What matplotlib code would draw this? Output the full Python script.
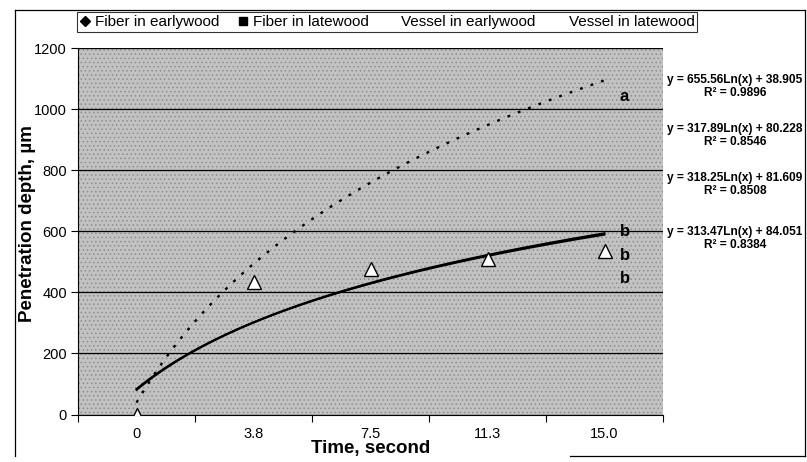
"""Penetration depth vs time, with logarithmic trend lines."""

import matplotlib

matplotlib.use("Agg")
import matplotlib.pyplot as plt
from matplotlib.lines import Line2D
from matplotlib.patches import Rectangle
import numpy as np

plt.rcParams["font.family"] = ["Liberation Sans", "DejaVu Sans"]
plt.rcParams["hatch.linewidth"] = 0.6

# category axis (Excel style: points sit at positions 1..5)
time_labels = ["0", "3.8", "7.5", "11.3", "15.0"]
series_names = ["Fiber in earlywood", "Fiber in latewood", "Vessel in earlywood", "Vessel in latewood"]

# the only markers still readable in the scan
marker_values = [0, 435, 477, 510, 536]

# logarithmic trend lines  y = slope * ln(x) + intercept
fit_slopes = [655.56, 317.89, 318.25, 313.47]
fit_intercepts = [38.905, 80.228, 81.609, 84.051]
fit_r2 = [0.9896, 0.8546, 0.8508, 0.8384]

# significance letters at the right end of the curves
group_letters = ["a", "b", "b", "b"]
letter_depths = [1040, 600, 520, 445]

W, H = 807, 462
fig = plt.figure(figsize=(W / 100, H / 100), dpi=100)
fig.patch.set_facecolor("white")
ax = fig.add_axes([78 / W, 1 - 414.5 / H, (663 - 78) / W, (414.5 - 48) / H])
ax.set_facecolor("#c2c2c2")
# dithered-looking fill of the scanned plot area
ax.add_patch(Rectangle((0, 0), 1, 1, transform=ax.transAxes, facecolor="none",
                       edgecolor="#8e8e8e", hatch="....", linewidth=0, zorder=0))

cats = np.arange(1, len(time_labels) + 1)
xs = np.linspace(cats[0], cats[-1], 200)
for i, (a, b) in enumerate(zip(fit_slopes, fit_intercepts)):
    style = (0, (1.2, 3.5)) if i == 0 else "-"
    lw = 1.7 if i == 0 else 1.3
    ax.plot(xs, a * np.log(xs) + b, color="black", linestyle=style, linewidth=lw, zorder=3)

ax.plot(cats, marker_values, linestyle="none", marker="^", markersize=10,
        markerfacecolor="white", markeredgecolor="black", markeredgewidth=1.0, zorder=4)

for letter, depth in zip(group_letters, letter_depths):
    ax.text(cats[-1] + 0.13, depth, letter, fontsize=12, fontweight="bold", va="center", ha="left", zorder=5)

ax.set_xlim(0.5, len(time_labels) + 0.5)
ax.set_ylim(0, 1200)
ax.set_yticks(np.arange(0, 1201, 200))
ax.yaxis.grid(True, color="black", linewidth=0.9)
ax.set_axisbelow(True)
ax.set_xticks(np.arange(0.5, len(time_labels) + 1, 1.0))
ax.set_xticklabels([])
ax.set_xticks(cats, minor=True)
ax.set_xticklabels(time_labels, minor=True)
ax.tick_params(axis="x", which="major", length=5, width=0.8, direction="out")
ax.tick_params(axis="x", which="minor", length=0, pad=9, labelsize=10.5)
ax.tick_params(axis="y", length=5, width=0.8, direction="out", labelsize=10.5, pad=3)
for side in ["top", "right"]:
    ax.spines[side].set_visible(False)
ax.spines["left"].set_linewidth(0.8)
ax.spines["bottom"].set_linewidth(0.8)

ax.set_xlabel("Time, second", fontsize=13.5, fontweight="bold", labelpad=-1)
ax.set_ylabel("Penetration depth, \u00b5m", fontsize=13.5, fontweight="bold")
ax.yaxis.set_label_coords(-0.071, 0.52)

handles = [
    Line2D([], [], linestyle="none", marker="D", markersize=5.5, color="black"),
    Line2D([], [], linestyle="none", marker="s", markersize=5.5, color="black"),
    Line2D([], [], linestyle="none", marker="^", markersize=5.5, color="white"),
    Line2D([], [], linestyle="none", marker="^", markersize=5.5, color="white"),
]
leg = fig.legend(handles, series_names, loc="upper left", bbox_to_anchor=(77 / W, 1 - 12 / H),
                 ncol=4, fontsize=11, frameon=True, fancybox=False, borderpad=0.2,
                 handlelength=0.7, handletextpad=0.3, columnspacing=1.15, borderaxespad=0)
leg.get_frame().set_edgecolor("black")
leg.get_frame().set_linewidth(0.8)

eq_y = [80, 129, 178, 232]
for a, b, r2, y in zip(fit_slopes, fit_intercepts, fit_r2, eq_y):
    fig.text(735 / W, 1 - y / H, f"y = {a:.2f}Ln(x) + {b:g}", fontsize=8.6, fontweight="bold",
             ha="center", va="center")
    fig.text(735 / W, 1 - (y + 13) / H, f"R\u00b2 = {r2:.4f}", fontsize=8.6, fontweight="bold",
             ha="center", va="center")

# outer chart frame
frame = dict(color="black", linewidth=0.9, transform=fig.transFigure)
fig.add_artist(Line2D([15 / W, 15 / W], [1 - 10 / H, 1 - 456 / H], **frame))
fig.add_artist(Line2D([15 / W, 805 / W], [1 - 10 / H, 1 - 10 / H], **frame))
fig.add_artist(Line2D([805 / W, 805 / W], [1 - 10 / H, 1 - 456 / H], **frame))
fig.add_artist(Line2D([570 / W, 805 / W], [1 - 456 / H, 1 - 456 / H], **frame))

fig.savefig("out.png", dpi=100)
